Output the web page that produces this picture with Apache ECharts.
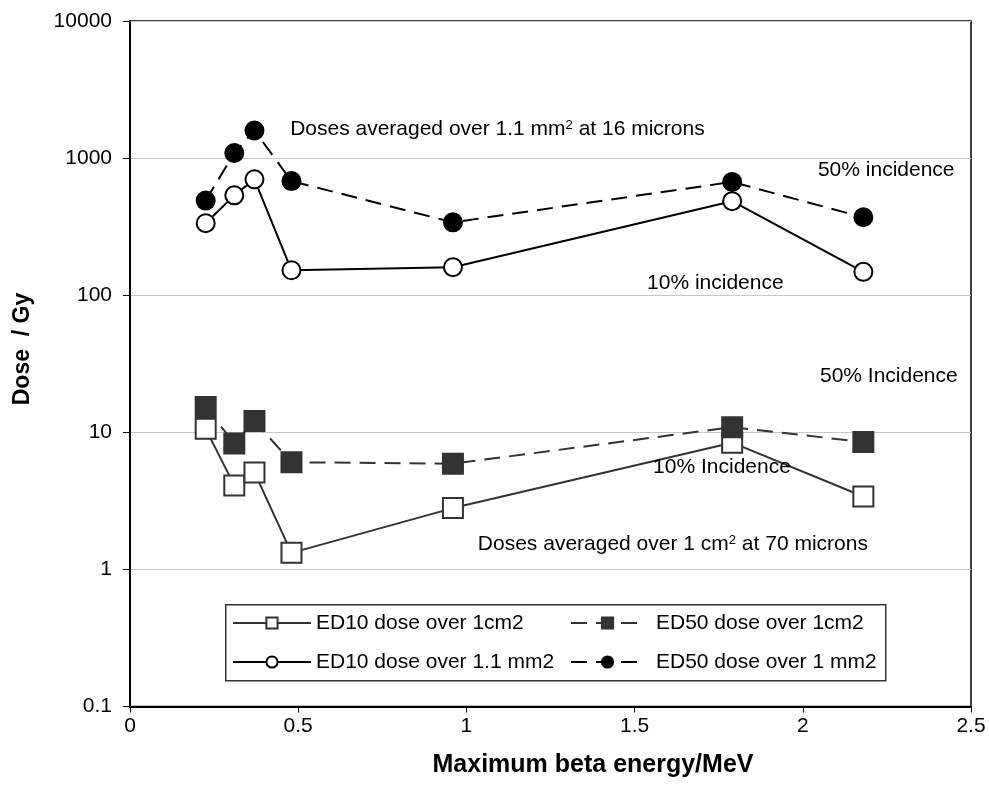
<!DOCTYPE html>
<html>
<head>
<meta charset="utf-8">
<script src="https://cdn.jsdelivr.net/npm/echarts@6/dist/echarts.min.js"></script>
<style>
  html, body { margin: 0; padding: 0; background: #fff; }
  #chart { width: 989px; height: 796px; }
</style>
</head>
<body>
<div id="chart"></div>
<script>
// Maximum beta energy (MeV) of each emitter
const energyMeV = [0.225, 0.31, 0.37, 0.48, 0.96, 1.79, 2.18];

// Doses (Gy) averaged over 1 cm2 at 70 microns
const ed10Over1cm2 = [10.6, 4.1, 5.1, 1.32, 2.8, 8.4, 3.4];
const ed50Over1cm2 = [15.3, 8.3, 12.1, 6.05, 5.9, 10.9, 8.5];

// Doses (Gy) averaged over 1.1 mm2 at 16 microns
const ed10Over11mm2 = [335, 535, 700, 152, 160, 485, 148];
const ed50Over1mm2 = [490, 1090, 1590, 680, 340, 670, 370];

const seriesNames = [
  'ED10 dose over 1cm2',
  'ED50 dose over 1cm2',
  'ED10 dose over 1.1 mm2',
  'ED50 dose over 1 mm2'
];

const yTickLabels = ['0.1', '1', '10', '100', '1000', '10000'];
const xTickLabels = ['0', '0.5', '1', '1.5', '2', '2.5'];

// Text notes, anchored at [energy, dose] (left edge, vertical middle)
const notes = [
  { text: '{a|Doses averaged over 1.1 mm}{s|2}{a| at 16 microns}', at: [0.476, 1620] },
  { text: '{a|50% incidence}', at: [2.045, 813] },
  { text: '{a|10% incidence}', at: [1.537, 122] },
  { text: '{a|50% Incidence}', at: [2.051, 25.6] },
  { text: '{a|10% Incidence}', at: [1.555, 5.57] },
  { text: '{a|Doses averaged over 1 cm}{s|2}{a| at 70 microns}', at: [1.034, 1.53] }
];

const FONT = '"Liberation Sans", Arial, Helvetica, sans-serif';

function pairs(ys) {
  return energyMeV.map((x, i) => [x, ys[i]]);
}

const chart = echarts.init(document.getElementById('chart'), null, { renderer: 'canvas' });

const option = {
  animation: false,
  backgroundColor: '#fff',
  grid: {
    left: 130, right: 18, top: 21, bottom: 89.5,
    show: true, borderColor: '#000', borderWidth: 1.5, backgroundColor: 'transparent'
  },
  xAxis: {
    type: 'value', min: 0, max: 2.5, interval: 0.5,
    axisLine: { show: true, onZero: false, lineStyle: { color: '#000', width: 2 } },
    axisTick: { show: true, inside: false, length: 6, lineStyle: { color: '#000', width: 1 } },
    axisLabel: {
      margin: 9, color: '#000', fontFamily: FONT, fontSize: 21,
      formatter: v => xTickLabels[Math.round(v / 0.5)]
    },
    splitLine: { show: false }
  },
  yAxis: {
    type: 'log', logBase: 10, min: 0.1, max: 10000,
    axisLine: { show: true, lineStyle: { color: '#000', width: 2 } },
    axisTick: { show: true, inside: false, length: 7, lineStyle: { color: '#000', width: 1 } },
    axisLabel: {
      margin: 18, color: '#000', fontFamily: FONT, fontSize: 21,
      formatter: v => yTickLabels[Math.round(Math.log10(v)) + 1]
    },
    splitLine: { show: true, lineStyle: { color: '#c8c8c8', width: 1.2 } },
    minorTick: { show: false }
  },
  legend: [
    {
      left: 232, top: 612, orient: 'vertical', padding: 0,
      itemWidth: 78, itemHeight: 14, itemGap: 17,
      selectedMode: false,
      data: [seriesNames[0], seriesNames[2]],
      textStyle: { color: '#000', fontFamily: FONT, fontSize: 21, lineHeight: 22 }
    },
    {
      left: 570, top: 612, orient: 'vertical', padding: 0,
      itemWidth: 73, itemHeight: 14, itemGap: 17,
      selectedMode: false,
      data: [seriesNames[1], seriesNames[3]],
      textStyle: { color: '#000', fontFamily: FONT, fontSize: 21, lineHeight: 22, padding: [0, 0, 0, 7] }
    }
  ],
  series: [
    {
      name: seriesNames[0], type: 'line', data: pairs(ed10Over1cm2),
      symbol: 'rect', symbolSize: 20,
      lineStyle: { color: '#333', width: 2, type: 'solid' },
      itemStyle: { color: '#fff', borderColor: '#333', borderWidth: 2 },
      emphasis: { disabled: true }
    },
    {
      name: seriesNames[1], type: 'line', data: pairs(ed50Over1cm2),
      symbol: 'rect', symbolSize: 20,
      lineStyle: { color: '#333', width: 2, type: [16, 9] },
      itemStyle: { color: '#333', borderColor: '#333', borderWidth: 2 },
      emphasis: { disabled: true }
    },
    {
      name: seriesNames[2], type: 'line', data: pairs(ed10Over11mm2),
      symbol: 'circle', symbolSize: 18,
      lineStyle: { color: '#000', width: 2, type: 'solid' },
      itemStyle: { color: '#fff', borderColor: '#000', borderWidth: 2 },
      emphasis: { disabled: true }
    },
    {
      name: seriesNames[3], type: 'line', data: pairs(ed50Over1mm2),
      symbol: 'circle', symbolSize: 18,
      lineStyle: { color: '#000', width: 2, type: [16, 9] },
      itemStyle: { color: '#000', borderColor: '#000', borderWidth: 2 },
      emphasis: { disabled: true }
    }
  ]
};

chart.setOption(option);

// Legend frame spans both legend columns
const graphics = [
  {
    type: 'rect', left: 225, top: 604, z: 0,
    shape: { width: 660, height: 76 },
    style: { fill: '#fff', stroke: '#333', lineWidth: 1.5 }
  },
  {
    type: 'text', x: 23, y: 349, rotation: Math.PI / 2,
    style: {
      text: 'Dose  / Gy', fill: '#000', font: 'bold 23px ' + FONT,
      align: 'center', verticalAlign: 'middle'
    }
  },
  {
    type: 'text', x: 593, y: 765,
    style: {
      text: 'Maximum beta energy/MeV', fill: '#000', font: 'bold 25px ' + FONT,
      align: 'center', verticalAlign: 'middle'
    }
  }
];

notes.forEach(n => {
  const p = chart.convertToPixel({ gridIndex: 0 }, n.at);
  graphics.push({
    type: 'text', x: p[0], y: p[1], z: 10,
    style: {
      text: n.text, fill: '#000', align: 'left', verticalAlign: 'middle',
      rich: {
        a: { fontSize: 21, fontFamily: FONT, fill: '#000' },
        s: { fontSize: 13, fontFamily: FONT, fill: '#000', verticalAlign: 'top' }
      }
    }
  });
});

chart.setOption({ graphic: graphics });
</script>
</body>
</html>
